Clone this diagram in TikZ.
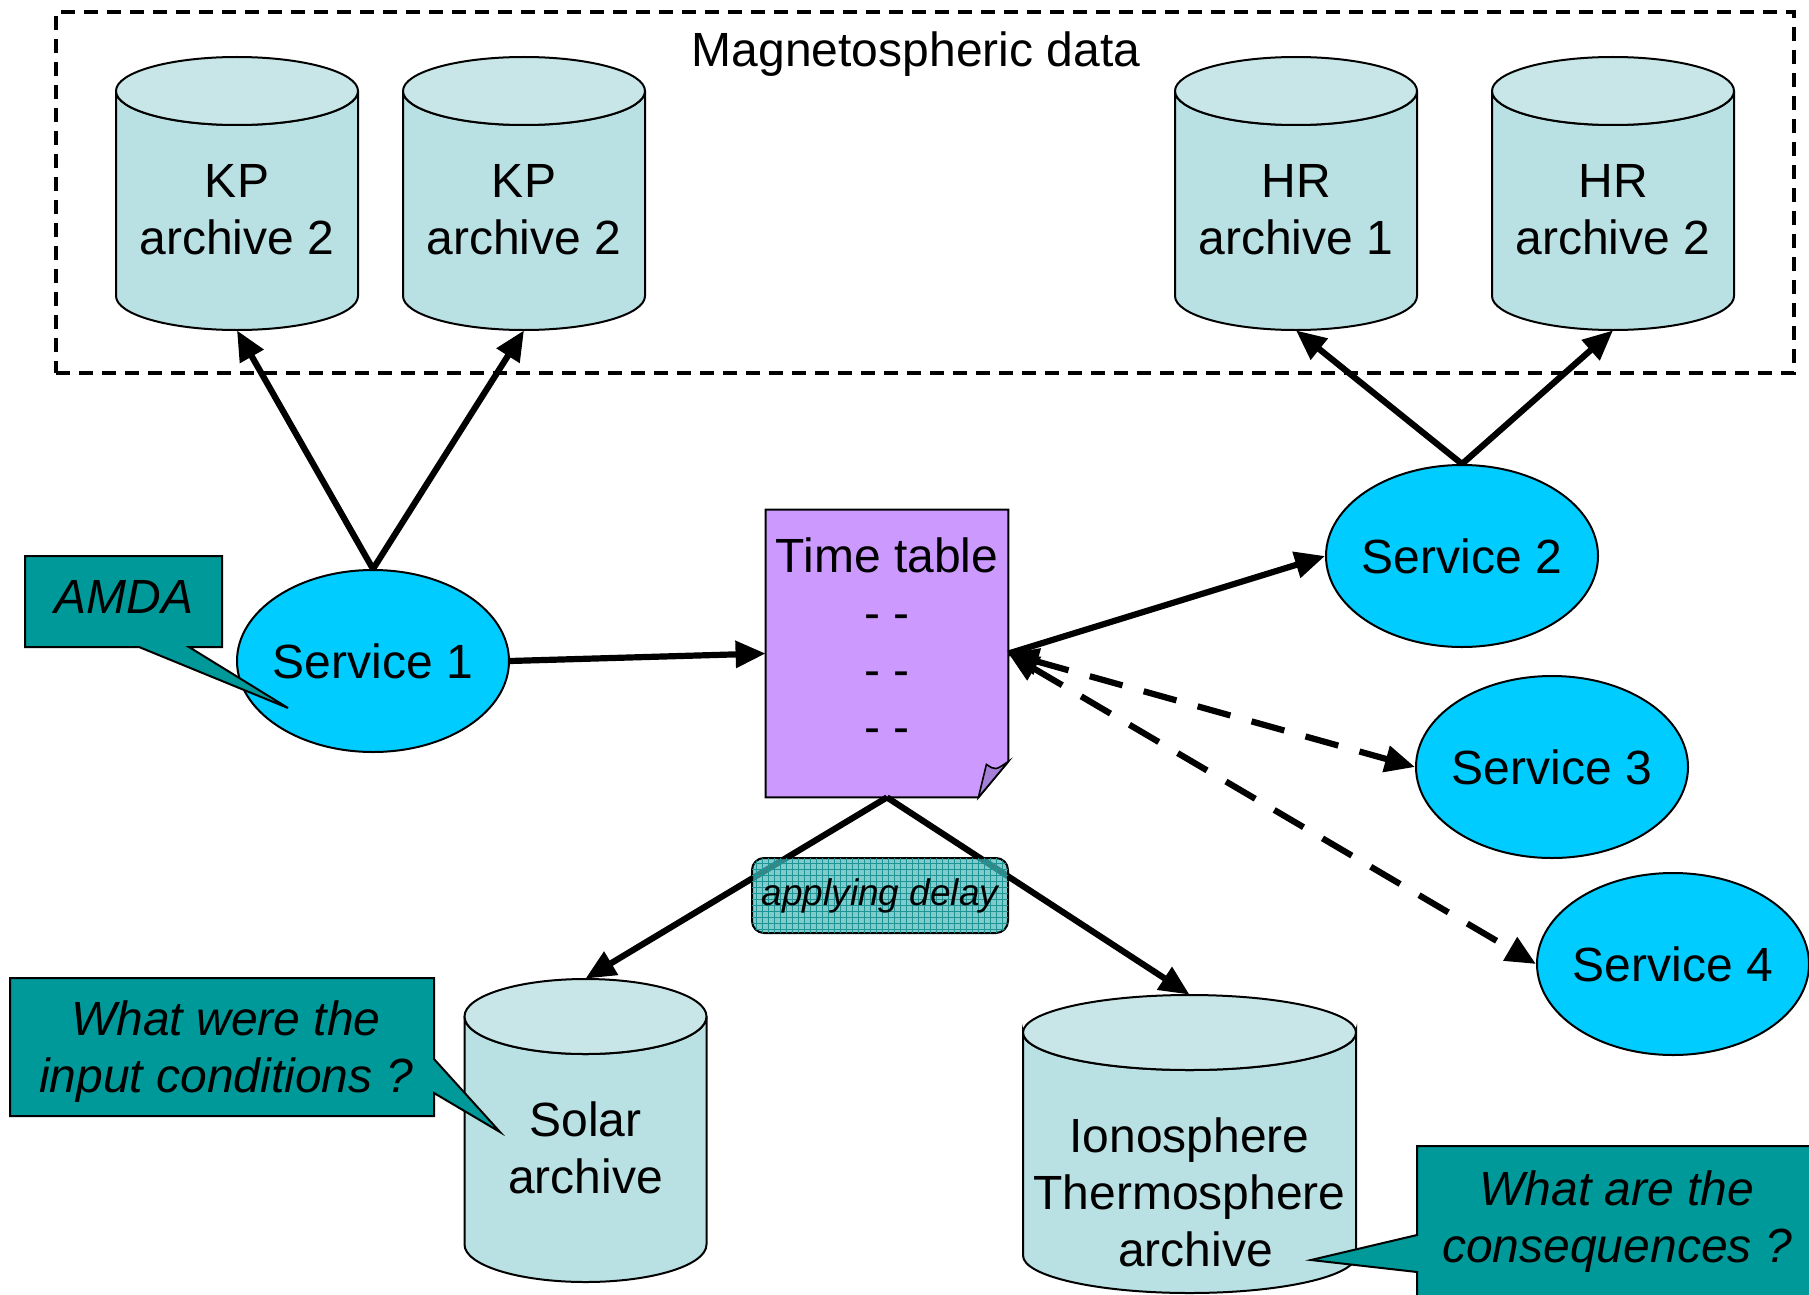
\documentclass[tikz,border=0pt]{standalone}
\usepackage{fontspec}
\setmainfont{Liberation Sans}
\usetikzlibrary{arrows.meta,shapes.geometric,patterns}
\definecolor{cylbody}{HTML}{B9E0E3}
\definecolor{cyltop}{HTML}{C8E6E8}
\definecolor{svc}{HTML}{00CCFF}
\definecolor{callout}{HTML}{009999}
\definecolor{ttfill}{HTML}{CC99FF}
\definecolor{ttfold}{HTML}{A680D8}
\definecolor{delayfill}{HTML}{4FB9B9}
\definecolor{delaygrid}{HTML}{1E9494}

\newcommand\dbcyl[8]{%
  \pgfmathsetmacro\cyLL{#2-#5}\pgfmathsetmacro\cyRR{#2+#5}%
  \pgfmathsetmacro\cyTT{#3+#6}\pgfmathsetmacro\cyBB{#4-#6}%
  \pgfmathsetmacro\cyKX{0.5523*#5}\pgfmathsetmacro\cyKY{0.5523*#6}%
  \path[cylbodystyle] (\cyLL,\cyTT) -- (\cyLL,\cyBB)
    .. controls (\cyLL,\cyBB+\cyKY) and (#2-\cyKX,\cyBB+#6) .. (#2,\cyBB+#6)
    .. controls (#2+\cyKX,\cyBB+#6) and (\cyRR,\cyBB+\cyKY) .. (\cyRR,\cyBB)
    -- (\cyRR,\cyTT)
    .. controls (\cyRR,\cyTT+\cyKY) and (#2+\cyKX,\cyTT+#6) .. (#2,\cyTT+#6)
    .. controls (#2-\cyKX,\cyTT+#6) and (\cyLL,\cyTT+\cyKY) .. (\cyLL,\cyTT) -- cycle;
  \path[cyltopstyle] (#2,\cyTT) ellipse[x radius=#5,y radius=#6];
  \node[cylframe, minimum width={#5*1pt}, minimum height={(#4-#3)*0.5pt}] (#1) at (#2,{(#3+#4)/2}) {};
  \node[cyltext] (#1-text) at (#2,#7) {#8};
}

\tikzset{
  every node/.style={font=\fontsize{24}{28.5}\selectfont, inner sep=0pt},
  svcnode/.style={ellipse, draw, line width=1pt, fill=svc, minimum width=136pt, minimum height=91pt},
  cylbodystyle/.style={fill=cylbody, draw, line width=1pt},
  cyltopstyle/.style={fill=cyltop, draw, line width=1pt},
  cylframe/.style={draw=none, rectangle},
  cyltext/.style={align=center},
  arr/.style={line width=3.1pt, -{Triangle[length=15pt,width=13pt]}},
  darr/.style={line width=3.1pt, dash pattern=on 17pt off 11pt,
    {Triangle[length=15pt,width=13pt]}-{Triangle[length=15pt,width=13pt]}},
  callouttext/.style={align=center, font=\fontsize{24}{28.5}\selectfont\itshape},
  calloutshape/.style={fill=callout, draw, line width=1pt},
  groupbox/.style={draw, line width=1.6pt, dash pattern=on 7pt off 4.5pt, rectangle},
  delaybox/.style={draw, line width=1pt, rounded corners=6pt, fill=delayfill, fill opacity=0.72,
    text opacity=1, postaction={pattern=grid, pattern color=delaygrid},
    font=\fontsize{18.5}{22}\selectfont\itshape},
}

\begin{document}
\begin{tikzpicture}[x=0.5pt,y=-0.5pt]
\useasboundingbox (0,0) rectangle (1809,1295);
\clip (0,0) rectangle (1809,1295);

% group box
\node[groupbox, minimum width=869pt, minimum height=180.5pt] (magbox) at (925,192.5) {};
\node[anchor=base] (magtitle) at (916,67) {Magnetospheric data};

% archives
\dbcyl{kp1}{237}{57}{330}{121}{34}{210}{KP\\archive 2}
\dbcyl{kp2}{524}{57}{330}{121}{34}{210}{KP\\archive 2}
\dbcyl{hr1}{1296}{57}{330}{121}{34}{210}{HR\\archive 1}
\dbcyl{hr2}{1613}{57}{330}{121}{34}{210}{HR\\archive 2}
\dbcyl{solar}{585.5}{979}{1282}{121}{37.5}{1148}{Solar\\archive}
\dbcyl{iono}{1189.5}{995}{1293}{166.5}{37.5}{1192.5}{Ionosphere\\Thermosphere\\\hspace*{6pt}archive}

% services
\node[svcnode] (s1) at (373,661) {\makebox[0pt]{Service 1}};
\node[svcnode] (s2) at (1462,556) {\makebox[0pt]{Service 2}};
\node[svcnode] (s3) at (1552,767) {\makebox[0pt]{Service 3}};
\node[svcnode] (s4) at (1673,964) {\makebox[0pt]{Service 4}};

% time table
\node[draw=none, minimum width=121pt, minimum height=143.5pt] (tt) at (887,653.5) {};
\path[fill=ttfill, draw, line width=1pt] (tt.north west) -- (tt.north east)
  -- ([yshift=18pt]tt.south east) -- ([xshift=-15pt]tt.south east) -- (tt.south west) -- cycle;
\path[fill=ttfold, draw, line width=0.8pt] ([xshift=-15pt]tt.south east)
  -- ([xshift=-11pt,yshift=16.5pt]tt.south east)
  .. controls ([xshift=-6.5pt,yshift=13.5pt]tt.south east) .. ([yshift=18pt]tt.south east) -- cycle;
\node[align=center] (tt-text) at (887,640.5) {Time table\\- -\\- -\\- -};

% connectors
\draw[arr] (s1.north) -- (kp1.south);
\draw[arr] (s1.north) -- (kp2.south);
\draw[arr] (s2.north) -- (hr1.south);
\draw[arr] (s2.north) -- (hr2.south);
\draw[arr] (s1.east) -- (tt.west);
\draw[arr] (tt.east) -- (s2.west);
\draw[darr] (tt.east) -- (s3.west);
\draw[darr] (tt.east) -- (s4.west);
\draw[arr] (tt.south) -- (solar.north);
\draw[arr] (tt.south) -- (iono.north);

% delay label
\node[delaybox, minimum width=128pt, minimum height=37.5pt] (delay) at (880,895.5) {\raisebox{-1.5pt}{applying delay}};

% callouts
\path[calloutshape] (25,556) -- (222,556) -- (222,647) -- (189,647) -- (288,708) -- (139,647) -- (25,647) -- cycle;
\node[callouttext] (amda) at (124,597) {AMDA};

\path[calloutshape] (10,978) -- (434,978) -- (434,1059) -- (500,1132) -- (434,1093) -- (434,1116) -- (10,1116) -- cycle;
\node[callouttext] (inputq) at (226,1052) {What were the\\input conditions ?};

\path[calloutshape] (1417,1146) -- (1830,1146) -- (1830,1320) -- (1417,1320) -- (1417,1272) -- (1311,1260) -- (1417,1235) -- cycle;
\node[callouttext] (consq) at (1617,1221.5) {What are the\\consequences ?};
\end{tikzpicture}
\end{document}
